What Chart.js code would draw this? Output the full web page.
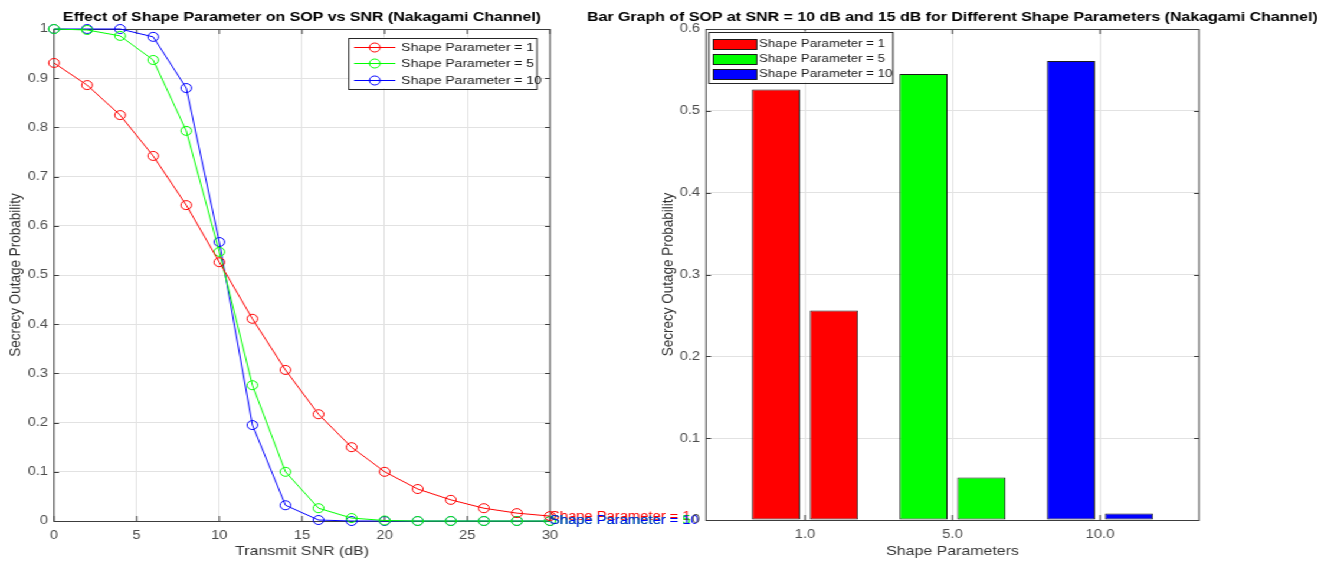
<!DOCTYPE html>
<html>
<head>
<meta charset="utf-8">
<title>Secrecy Outage Probability – Nakagami Channel</title>
<script src="https://cdn.jsdelivr.net/npm/chart.js@4.4.1/dist/chart.umd.min.js"></script>
<style>
  html, body { margin: 0; padding: 0; background: #ffffff; overflow: hidden; }
  /* the figure is laid out on a 1128px-wide stage and widened to 1331px */
  #stage { position: absolute; left: 0; top: 0; width: 1128px; height: 562px;
           transform: scaleX(1.18); transform-origin: 0 0; }
  #stage canvas { position: absolute; left: 0; top: 0; }
</style>
</head>
<body>
<div id="stage">
  <canvas id="sopCurve" width="1128" height="562"></canvas>
  <canvas id="sopBars" width="1128" height="562"></canvas>
</div>
<script>
// ---- data ----
const snrDb = [0, 2, 4, 6, 8, 10, 12, 14, 16, 18, 20, 22, 24, 26, 28, 30];
const sopShape1 = [0.931, 0.886, 0.825, 0.742, 0.642, 0.526, 0.411, 0.307, 0.217, 0.150, 0.100, 0.065, 0.043, 0.026, 0.016, 0.010];
const sopShape5 = [1.000, 0.998, 0.986, 0.937, 0.793, 0.547, 0.276, 0.100, 0.026, 0.006, 0.001, 0, 0, 0, 0, 0];
const sopShape10 = [1.000, 1.000, 1.000, 0.984, 0.880, 0.567, 0.195, 0.032, 0.002, 0, 0, 0, 0, 0, 0, 0];

const shapeParams = [1, 5, 10];
const shapeTickLabels = ['1.0', '5.0', '10.0'];
const sopAtSnr10 = [0.526, 0.545, 0.561];
const sopAtSnr15 = [0.256, 0.052, 0.008];

const shapeColors = ['#ff0000', '#00ff00', '#0000ff'];
const seriesNames = shapeParams.map(m => 'Shape Parameter = ' + m);

const curveTitle = 'Effect of Shape Parameter on SOP vs SNR (Nakagami Channel)';
const barTitle = 'Bar Graph of SOP at SNR = 10 dB and 15 dB for Different Shape Parameters (Nakagami Channel)';

// ---- styling ----
const FONT = '"Liberation Sans", Arial, Helvetica, sans-serif';
const STAGE_W = 1128;
const TICK_COLOR = '#4d4d4d';
const LABEL_COLOR = '#333333';
const GRID_COLOR = '#e2e2e2';
const BOX_COLOR = '#3c3c3c';

const fmtTick = v => String(Number(Number(v).toFixed(2)));

// MATLAB-like axes decoration: box, inward ticks, title, axis labels, legend
const axesDecor = {
  id: 'axesDecor',
  beforeDatasetsDraw(chart, args, opts) {
    const { ctx, chartArea: a, scales } = chart;
    ctx.save();
    ctx.strokeStyle = BOX_COLOR;
    ctx.lineWidth = 1;
    ctx.beginPath();
    scales.x.ticks.forEach(t => {
      const px = scales.x.getPixelForValue(t.value);
      ctx.moveTo(px, a.bottom); ctx.lineTo(px, a.bottom - 5);
      ctx.moveTo(px, a.top); ctx.lineTo(px, a.top + 5);
    });
    scales.y.ticks.forEach(t => {
      const py = Math.round(scales.y.getPixelForValue(t.value)) + 0.5;
      ctx.moveTo(a.left, py); ctx.lineTo(a.left + 4.2, py);
      ctx.moveTo(a.right, py); ctx.lineTo(a.right - 4.2, py);
    });
    ctx.stroke();
    ctx.strokeRect(a.left, Math.round(a.top) + 0.5, a.right - a.left, Math.round(a.bottom - a.top));
    ctx.restore();
  },
  afterDatasetsDraw(chart, args, opts) {
    if (opts.afterData) opts.afterData(chart);
  },
  afterDraw(chart, args, opts) {
    const { ctx, chartArea: a } = chart;
    const cx = (a.left + a.right) / 2;
    ctx.save();
    ctx.textAlign = 'center';
    ctx.textBaseline = 'middle';
    ctx.fillStyle = '#000000';
    ctx.font = 'bold 13.5px ' + FONT;
    ctx.fillText(opts.title, cx, 17);

    ctx.fillStyle = LABEL_COLOR;
    ctx.font = '13.5px ' + FONT;
    ctx.fillText(opts.xLabel, cx, 551);

    ctx.translate(a.left - 32.5, (a.top + a.bottom) / 2);
    ctx.rotate(-Math.PI / 2);
    ctx.fillText(opts.yLabel, 0, 0);
    ctx.restore();

    if (opts.legend) opts.legend(chart);
  }
};

function fixedAxis(size, horizontal) {
  return horizontal ? (s => { s.height = size; }) : (s => { s.width = size; });
}

// ---- line chart: SOP vs transmit SNR ----
const curveSeries = [sopShape1, sopShape5, sopShape10];

new Chart(document.getElementById('sopCurve'), {
  type: 'line',
  data: {
    datasets: curveSeries.map((vals, i) => ({
      label: seriesNames[i],
      data: snrDb.map((x, k) => ({ x, y: vals[k] })),
      borderColor: shapeColors[i],
      backgroundColor: 'rgba(0,0,0,0)',
      borderWidth: 1,
      pointRadius: 4.5,
      pointBorderWidth: 1,
      pointBackgroundColor: 'rgba(0,0,0,0)',
      pointBorderColor: shapeColors[i],
      tension: 0,
      clip: false
    }))
  },
  options: {
    responsive: false,
    animation: false,
    devicePixelRatio: 1,
    events: [],
    layout: { padding: { left: 45.76 - 40, right: STAGE_W - 466.1, top: 29, bottom: 0 } },
    scales: {
      x: {
        type: 'linear', min: 0, max: 30,
        afterFit: fixedAxis(41, true),
        border: { display: false },
        grid: { color: GRID_COLOR, drawTicks: false },
        ticks: { stepSize: 5, padding: 7, color: TICK_COLOR, font: { family: FONT, size: 12.5 }, maxRotation: 0 }
      },
      y: {
        type: 'linear', min: 0, max: 1,
        afterFit: fixedAxis(40, false),
        border: { display: false },
        grid: { color: GRID_COLOR, drawTicks: false },
        ticks: { stepSize: 0.1, padding: 5, color: TICK_COLOR, font: { family: FONT, size: 12.5 }, callback: fmtTick }
      }
    },
    plugins: {
      legend: { display: false },
      title: { display: false },
      tooltip: { enabled: false },
      axesDecor: {
        title: curveTitle,
        xLabel: 'Transmit SNR (dB)',
        yLabel: 'Secrecy Outage Probability',
        afterData(chart) {
          // series name written next to each curve's last point
          const ctx = chart.ctx;
          ctx.save();
          ctx.font = '12.5px ' + FONT;
          ctx.textAlign = 'left';
          ctx.textBaseline = 'middle';
          chart.data.datasets.forEach((ds, i) => {
            const pts = chart.getDatasetMeta(i).data;
            const p = pts[pts.length - 1];
            ctx.fillStyle = shapeColors[i];
            ctx.fillText(seriesNames[i], p.x, p.y);
          });
          ctx.restore();
        },
        legend(chart) {
          const { ctx, chartArea: a } = chart;
          const w = 159.5, h = 51;
          const left = a.right - 11 - w, top = a.top + 8.5;
          ctx.save();
          ctx.fillStyle = '#ffffff';
          ctx.fillRect(left, top, w, h);
          ctx.strokeStyle = '#262626';
          ctx.lineWidth = 1;
          ctx.strokeRect(left, Math.round(top) + 0.5, w, h);
          ctx.font = '11.8px ' + FONT;
          ctx.textAlign = 'left';
          ctx.textBaseline = 'middle';
          seriesNames.forEach((name, i) => {
            const y = Math.round(top + 9 + 16.5 * i) + 0.5;
            ctx.strokeStyle = shapeColors[i];
            ctx.beginPath();
            ctx.moveTo(left + 4.5, y); ctx.lineTo(left + 39.5, y);
            ctx.stroke();
            ctx.beginPath();
            ctx.arc(left + 22, y, 4.5, 0, Math.PI * 2);
            ctx.stroke();
            ctx.fillStyle = '#1a1a1a';
            ctx.fillText(name, left + 44.5, y);
          });
          ctx.restore();
        }
      }
    }
  },
  plugins: [axesDecor]
});

// ---- bar chart: SOP at 10 dB and 15 dB per shape parameter ----
const barSeries = [
  { label: 'SNR = 10 dB', values: sopAtSnr10 },
  { label: 'SNR = 15 dB', values: sopAtSnr15 }
];

new Chart(document.getElementById('sopBars'), {
  type: 'bar',
  data: {
    datasets: barSeries.map(s => ({
      label: s.label,
      data: s.values.map((v, i) => ({ x: i, y: v })),
      backgroundColor: shapeColors,
      borderColor: '#1a1a1a',
      borderWidth: 1,
      borderSkipped: false,
      categoryPercentage: 0.786,
      barPercentage: 0.83
    }))
  },
  options: {
    responsive: false,
    animation: false,
    devicePixelRatio: 1,
    events: [],
    layout: { padding: { left: 598.3 - 40, right: STAGE_W - 1016.1, top: 29, bottom: 0 } },
    scales: {
      x: {
        type: 'linear', min: -0.671, max: 2.671,
        offset: false,
        afterFit: fixedAxis(42, true),
        afterBuildTicks(s) { s.ticks = shapeParams.map((_, i) => ({ value: i })); },
        border: { display: false },
        grid: { color: GRID_COLOR, drawTicks: false, offset: false },
        ticks: { padding: 7, color: TICK_COLOR, font: { family: FONT, size: 12.5 }, maxRotation: 0,
                 callback: v => shapeTickLabels[v] }
      },
      y: {
        type: 'linear', min: 0, max: 0.6,
        afterFit: fixedAxis(40, false),
        border: { display: false },
        grid: { color: GRID_COLOR, drawTicks: false },
        ticks: { stepSize: 0.1, padding: 5, color: TICK_COLOR, font: { family: FONT, size: 12.5 }, callback: fmtTick }
      }
    },
    plugins: {
      legend: { display: false },
      title: { display: false },
      tooltip: { enabled: false },
      axesDecor: {
        title: barTitle,
        xLabel: 'Shape Parameters',
        yLabel: 'Secrecy Outage Probability',
        legend(chart) {
          const { ctx, chartArea: a } = chart;
          const w = 156, h = 51;
          const left = a.left + 2.5, top = a.top + 2.5;
          ctx.save();
          ctx.fillStyle = '#ffffff';
          ctx.fillRect(left, top, w, h);
          ctx.strokeStyle = '#262626';
          ctx.lineWidth = 1;
          ctx.strokeRect(left, Math.round(top) + 0.5, w, h);
          ctx.font = '11.2px ' + FONT;
          ctx.textAlign = 'left';
          ctx.textBaseline = 'middle';
          seriesNames.forEach((name, i) => {
            const yc = top + 12 + 15.3 * i;
            ctx.fillStyle = shapeColors[i];
            ctx.fillRect(left + 3.7, Math.round(yc - 5) + 0.5, 36.8, 10);
            ctx.strokeStyle = '#1a1a1a';
            ctx.strokeRect(left + 3.7, Math.round(yc - 5) + 0.5, 36.8, 10);
            ctx.fillStyle = '#1a1a1a';
            ctx.fillText(name, left + 42.5, yc);
          });
          ctx.restore();
        }
      }
    }
  },
  plugins: [axesDecor]
});
</script>
</body>
</html>
